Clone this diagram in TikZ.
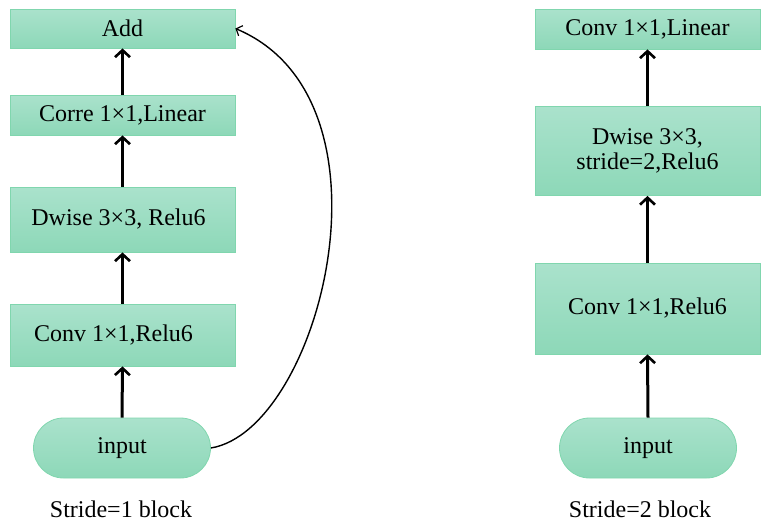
\documentclass[tikz,border=0pt]{standalone}
\usepackage{fontspec}
\setmainfont{Liberation Serif}
\usetikzlibrary{arrows.meta,shapes.misc}
\definecolor{boxtop}{RGB}{170,226,204}
\definecolor{boxbot}{RGB}{141,216,184}
\definecolor{boxline}{RGB}{128,214,174}
\tikzset{
  blk/.style={draw=boxline, line width=0.8pt, top color=boxtop, bottom color=boxbot,
    inner sep=0pt, align=center, font=\fontsize{24}{28}\selectfont},
  pill/.style={blk, rounded rectangle},
  flow/.style={line width=3pt, -{Straight Barb[length=7pt,width=15pt,line width=2.6pt]}},
  skipline/.style={line width=1.4pt, -{Straight Barb[length=5pt,width=11pt,line width=1.2pt]}},
  captxt/.style={font=\fontsize{24}{28}\selectfont, inner sep=0pt}
}
\begin{document}
\begin{tikzpicture}[x=1pt,y=-1pt]
\useasboundingbox (0,0) rectangle (763,522);
% left column
\node[blk, minimum width=225pt, minimum height=39pt] (add) at (122.5,28.5) {Add};
\node[blk, minimum width=225pt, minimum height=40pt] (corre) at (122.5,115) {Corre 1×1,Linear};
\node[blk, minimum width=225pt, minimum height=65pt] (dw1) at (122.5,219.5) {Dwise 3×3, Relu6\hspace*{8pt}};
\node[blk, minimum width=225pt, minimum height=62pt] (cv1) at (122.5,335) {Conv 1×1,Relu6\hspace*{18pt}};
\node[pill, minimum width=177pt, minimum height=60pt] (in1) at (122,448) {input};
\node[captxt] (lab1) at (121,509) {Stride=1 block};
\draw[flow] (in1.north) -- (cv1.south);
\draw[flow] (cv1.north) -- (dw1.south);
\draw[flow] (dw1.north) -- (corre.south);
\draw[flow] (corre.north) -- (add.south);
\draw[skipline] (in1.east) .. controls (320,430) and (405,100) .. (add.east);
% right column
\node[blk, minimum width=225pt, minimum height=40pt] (lin2) at (647.5,29) {Conv 1×1,Linear};
\node[blk, minimum width=225pt, minimum height=89pt] (dw2) at (647.5,151) {Dwise 3×3,\\[-3pt]stride=2,Relu6};
\node[blk, minimum width=225pt, minimum height=91pt] (cv2) at (647.5,308.5) {Conv 1×1,Relu6};
\node[pill, minimum width=177pt, minimum height=60pt] (in2) at (648,448) {input};
\node[captxt] (lab2) at (640,509) {Stride=2 block};
\draw[flow] (in2.north) -- (cv2.south);
\draw[flow] (cv2.north) -- (dw2.south);
\draw[flow] (dw2.north) -- (lin2.south);
\end{tikzpicture}
\end{document}
